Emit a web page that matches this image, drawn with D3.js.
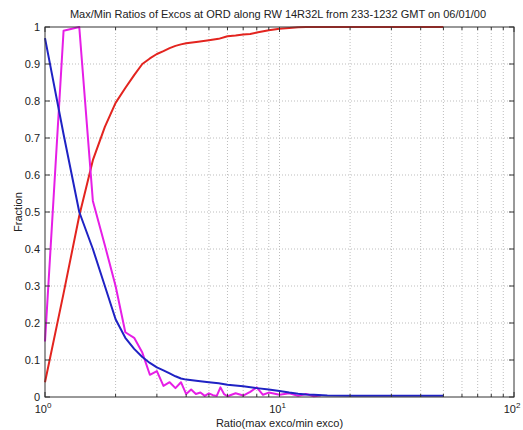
<!DOCTYPE html>
<html>
<head>
<meta charset="utf-8">
<script src="https://cdn.jsdelivr.net/npm/d3@7"></script>
<style>
  body { margin: 0; background: #fff; }
  text { font-family: "Liberation Sans", Arial, sans-serif; fill: #222; }
</style>
</head>
<body>
<div id="chart"></div>
<script>
// ratio samples and fractions
var redRatio = [1.0, 1.2, 1.4, 1.6, 1.8, 2.0, 2.2, 2.4, 2.6, 2.8, 3.0, 3.2, 3.4, 3.6, 3.8, 4.0, 4.5, 5.0, 5.5, 6.0, 6.5, 7.0, 7.5, 8.0, 9.0, 10, 11, 12, 13, 20, 50];
var redFrac  = [0.04, 0.28, 0.49, 0.64, 0.73, 0.795, 0.835, 0.87, 0.90, 0.915, 0.927, 0.935, 0.943, 0.949, 0.953, 0.956, 0.960, 0.964, 0.968, 0.975, 0.977, 0.980, 0.981, 0.985, 0.991, 0.995, 0.997, 0.999, 1.0, 1.0, 1.0];

var blueRatio = [1.0, 1.2, 1.4, 1.6, 1.8, 2.0, 2.2, 2.4, 2.6, 2.8, 3.0, 3.2, 3.4, 3.6, 3.8, 4.0, 4.5, 5.0, 5.5, 6.0, 7.0, 8.0, 9.0, 10, 11, 12, 13, 14, 16, 20, 50];
var blueFrac  = [0.97, 0.71, 0.50, 0.40, 0.30, 0.21, 0.16, 0.13, 0.108, 0.092, 0.08, 0.072, 0.064, 0.056, 0.05, 0.047, 0.043, 0.04, 0.037, 0.033, 0.029, 0.024, 0.02, 0.016, 0.012, 0.009, 0.007, 0.006, 0.004, 0.0035, 0.0035];

var magRatio = [1.0, 1.2, 1.4, 1.6, 1.8, 2.0, 2.2, 2.4, 2.6, 2.8, 3.0, 3.2, 3.4, 3.6, 3.8, 4.0, 4.2, 4.4, 4.6, 4.8, 5.0, 5.2, 5.4, 5.6, 5.8, 6.0, 6.5, 7.0, 7.5, 8.0, 8.5, 9, 10, 11, 12, 13, 14, 15];
var magFrac  = [0.15, 0.99, 1.0, 0.53, 0.41, 0.30, 0.175, 0.16, 0.12, 0.06, 0.07, 0.03, 0.04, 0.024, 0.04, 0.008, 0.02, 0.008, 0.012, 0.003, 0.01, 0.005, 0.003, 0.026, 0.008, 0.002, 0.01, 0.004, 0.014, 0.026, 0.006, 0.012, 0.006, 0.01, 0.003, 0.008, 0.002, 0.004];

var yTicks = [0, 0.1, 0.2, 0.3, 0.4, 0.5, 0.6, 0.7, 0.8, 0.9, 1];
var xMajor = [1, 10, 100];
var xMinor = [2, 3, 4, 5, 6, 7, 8, 9, 20, 30, 40, 50, 60, 70, 80, 90];

var W = 523, H = 430;
var m = {l: 45, r: 9, t: 27, b: 33};
var w = W - m.l - m.r, h = H - m.t - m.b;

var svg = d3.select("#chart").append("svg").attr("width", W).attr("height", H);
var g = svg.append("g").attr("transform", "translate(" + m.l + "," + m.t + ")");

var x = d3.scaleLog().domain([1, 100]).range([0, w]);
var y = d3.scaleLinear().domain([0, 1]).range([h, 0]);

// dotted grid
var grid = g.append("g").attr("stroke", "#bdbdbd").attr("stroke-dasharray", "1,2").attr("stroke-width", 1);
grid.selectAll(".gx").data(xMajor.concat(xMinor).filter(function(d) { return d > 1 && d < 100; }))
  .enter().append("line")
  .attr("x1", function(d) { return x(d); }).attr("x2", function(d) { return x(d); })
  .attr("y1", 0).attr("y2", h);
grid.selectAll(".gy").data(yTicks.filter(function(d) { return d > 0 && d < 1; }))
  .enter().append("line")
  .attr("x1", 0).attr("x2", w)
  .attr("y1", function(d) { return y(d); }).attr("y2", function(d) { return y(d); });

// series
var line = d3.line().x(function(d) { return x(d[0]); }).y(function(d) { return y(d[1]); });
var series = [
  {r: redRatio, f: redFrac, c: "#e3241f"},
  {r: magRatio, f: magFrac, c: "#e61ee6"},
  {r: blueRatio, f: blueFrac, c: "#1f22c4"}
];
series.forEach(function(s) {
  g.append("path")
    .datum(d3.zip(s.r, s.f))
    .attr("d", line)
    .attr("fill", "none")
    .attr("stroke", s.c)
    .attr("stroke-width", 2)
    .attr("stroke-linejoin", "round");
});

// box
g.append("rect").attr("width", w).attr("height", h)
  .attr("fill", "none").attr("stroke", "#333").attr("stroke-width", 1);

// inward ticks, all four sides
var ticks = g.append("g").attr("stroke", "#333").attr("stroke-width", 1);
yTicks.forEach(function(d) {
  ticks.append("line").attr("x1", 0).attr("x2", 5).attr("y1", y(d)).attr("y2", y(d));
  ticks.append("line").attr("x1", w).attr("x2", w - 5).attr("y1", y(d)).attr("y2", y(d));
});
xMajor.concat(xMinor).forEach(function(d) {
  var len = xMajor.indexOf(d) >= 0 ? 5 : 3;
  ticks.append("line").attr("x1", x(d)).attr("x2", x(d)).attr("y1", h).attr("y2", h - len);
  ticks.append("line").attr("x1", x(d)).attr("x2", x(d)).attr("y1", 0).attr("y2", len);
});

// tick labels
g.selectAll(".yl").data(yTicks).enter().append("text")
  .attr("x", -5).attr("y", function(d) { return y(d) + 4; })
  .attr("text-anchor", "end").attr("font-size", 11)
  .text(function(d) { return d; });

var xl = g.selectAll(".xl").data(xMajor).enter().append("text")
  .attr("x", function(d) { return x(d) - 2; }).attr("y", h + 16)
  .attr("text-anchor", "middle").attr("font-size", 11);
xl.append("tspan").text("10");
xl.append("tspan").attr("dy", -5).attr("font-size", 8)
  .text(function(d) { return Math.round(Math.log10(d)); });

// titles
svg.append("text").attr("x", 278).attr("y", 18).attr("text-anchor", "middle")
  .attr("font-size", 11).text("Max/Min Ratios of Excos at ORD along RW 14R32L from 233-1232 GMT on 06/01/00");
svg.append("text").attr("x", m.l + w / 2).attr("y", 427).attr("text-anchor", "middle")
  .attr("font-size", 11).text("Ratio(max exco/min exco)");
svg.append("text").attr("transform", "translate(22," + (m.t + h / 2) + ") rotate(-90)")
  .attr("text-anchor", "middle").attr("font-size", 11).text("Fraction");
</script>
</body>
</html>
